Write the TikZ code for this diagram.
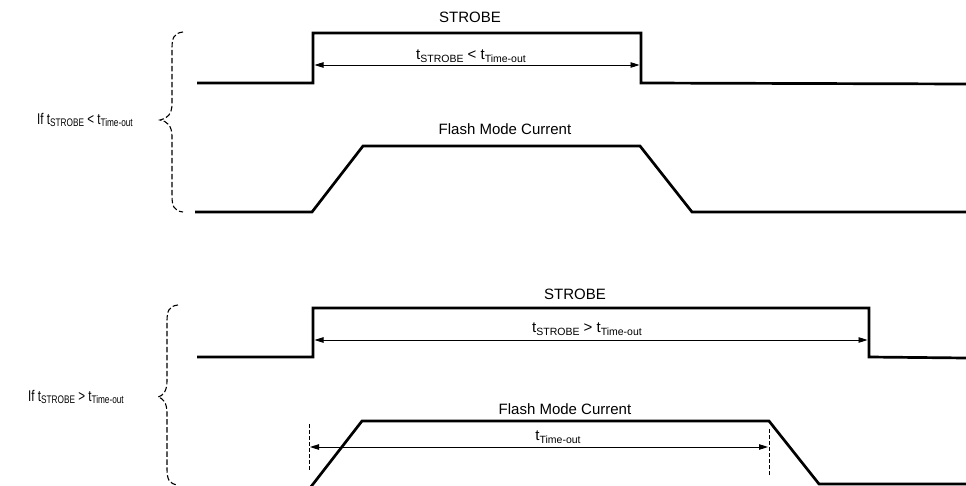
\documentclass[tikz,border=0pt]{standalone}
\usepackage{graphicx}
\usepackage{fontspec}
\setmainfont{Liberation Sans}
\usetikzlibrary{arrows.meta}
\newcommand{\tsub}[2]{\raisebox{-0.32ex}{\fontsize{#1}{#1}\selectfont #2}}
\begin{document}
\begin{tikzpicture}[x=1pt,y=-1pt,
  sig/.style={line width=2.7pt,line join=miter},
  dim/.style={line width=0.9pt,{Triangle[length=9pt,width=5.5pt]}-{Triangle[length=9pt,width=5.5pt]}},
  brace/.style={line width=1.1pt,dash pattern=on 5.5pt off 2.5pt},
  guide/.style={line width=0.9pt,dash pattern=on 4pt off 2pt},
  lbl/.style={inner sep=0pt,font=\fontsize{15}{17}\selectfont},
  cond/.style={inner sep=0pt,font=\fontsize{15.5}{17}\selectfont}]
\useasboundingbox (0,0) rectangle (966,486);

% ---------- top diagram ----------
\coordinate (s1a) at (197,83);
\coordinate (s1b) at (313,83);
\coordinate (s1c) at (313,33);
\coordinate (s1d) at (641,33);
\coordinate (s1e) at (641,83);
\coordinate (s1f) at (966,84);
\draw[sig] (s1a) -- (s1b) -- (s1c) -- (s1d) -- (s1e) -- (s1f);
\node[lbl] (strobe1) at (470,17) {STROBE};
\coordinate (a1l) at (314.5,65);
\coordinate (a1r) at (639.5,65);
\draw[dim] (a1l) -- (a1r);
\node[lbl] (t1) at (471,56) {t\tsub{10.5}{STROBE} < t\tsub{10.5}{Time-out}};

\coordinate (f1a) at (195,212);
\coordinate (f1b) at (312,212);
\coordinate (f1c) at (363,146);
\coordinate (f1d) at (640,146);
\coordinate (f1e) at (692,212);
\coordinate (f1f) at (966,212);
\draw[sig] (f1a) -- (f1b) -- (f1c) -- (f1d) -- (f1e) -- (f1f);
\node[lbl] (flash1) at (505,129) {Flash Mode Current};

\draw[brace] (183,32) .. controls (174,33) and (172,38) .. (172,48)
  -- (172,104) .. controls (172,114) and (167,119) .. (160,120)
  .. controls (167,121) and (172,126) .. (172,136)
  -- (172,196) .. controls (172,206) and (174,211) .. (183,212);
\node[cond] (c1) at (85,120) {\scalebox{0.75}[1]{If t\tsub{11}{STROBE} < t\tsub{11}{Time-out}}};

% ---------- bottom diagram ----------
\coordinate (s2a) at (197,357);
\coordinate (s2b) at (313,357);
\coordinate (s2c) at (313,308);
\coordinate (s2d) at (869,308);
\coordinate (s2e) at (869,357);
\coordinate (s2f) at (966,358);
\draw[sig] (s2a) -- (s2b) -- (s2c) -- (s2d) -- (s2e) -- (s2f);
\node[lbl] (strobe2) at (575,294) {STROBE};
\coordinate (a2l) at (314.5,340);
\coordinate (a2r) at (867.5,340);
\draw[dim] (a2l) -- (a2r);
\node[lbl] (t2) at (587,329) {t\tsub{10.5}{STROBE} > t\tsub{10.5}{Time-out}};

\coordinate (f2a) at (310,488);
\coordinate (f2b) at (362,421);
\coordinate (f2c) at (769,421);
\coordinate (f2d) at (819,484);
\coordinate (f2e) at (966,484);
\draw[sig] (f2a) -- (f2b) -- (f2c) -- (f2d) -- (f2e);
\node[lbl] (flash2) at (565,409) {Flash Mode Current};

\coordinate (g1t) at (309,424);
\coordinate (g1b) at (309,471);
\coordinate (g2t) at (769,429);
\coordinate (g2b) at (769,476);
\draw[guide] (g1t) -- (g1b);
\draw[guide] (g2t) -- (g2b);
\coordinate (a3l) at (310,447);
\coordinate (a3r) at (768,447);
\draw[dim] (a3l) -- (a3r);
\node[lbl] (t3) at (558,437) {t\tsub{10.5}{Time-out}};

\draw[brace] (178,305) .. controls (169,306) and (167,311) .. (167,321)
  -- (167,381) .. controls (167,391) and (163,396) .. (158,397)
  .. controls (163,398) and (167,403) .. (167,413)
  -- (167,469) .. controls (167,479) and (169,484) .. (178,485);
\node[cond] (c2) at (76,397) {\scalebox{0.75}[1]{If t\tsub{11}{STROBE} > t\tsub{11}{Time-out}}};
\end{tikzpicture}
\end{document}
